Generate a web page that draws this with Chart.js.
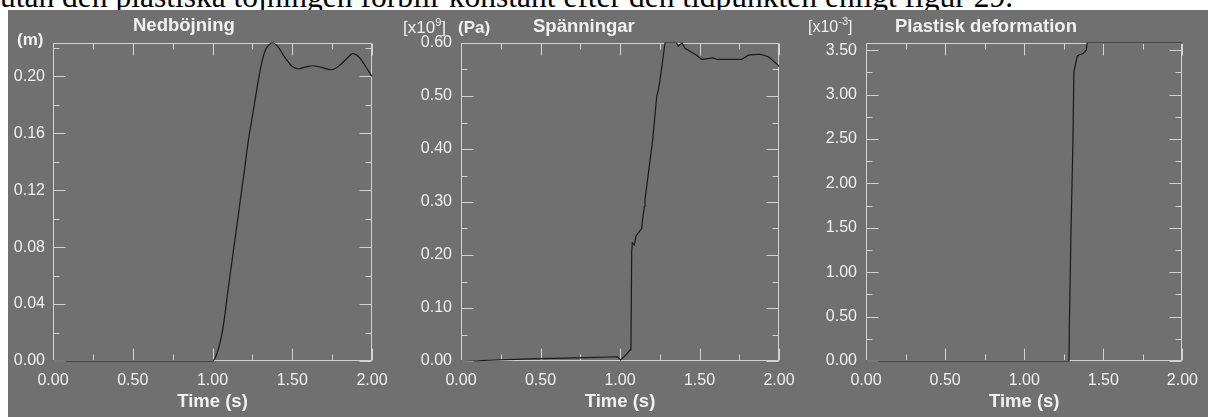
<!DOCTYPE html>
<html>
<head>
<meta charset="utf-8">
<script src="https://cdn.jsdelivr.net/npm/chart.js@4.4.1/dist/chart.umd.min.js"></script>
<style>
body{margin:0;background:#fff;width:1208px;height:417px;overflow:hidden;position:relative;font-family:"Liberation Sans",Arial,sans-serif;}
#caption{position:absolute;left:0;top:-19px;font-family:"Liberation Serif","Times New Roman",serif;font-size:31.5px;line-height:32px;color:#000;white-space:nowrap;}
#panel{position:absolute;left:8px;top:10px;width:1200px;height:407px;background:#707070;}
canvas{position:absolute;top:10px;}
.lbl{position:absolute;color:#f0f0f0;white-space:nowrap;line-height:1;}
.ttl{font-weight:bold;font-size:18.5px;}
.unit{font-size:16px;}
.unit sup{font-size:11px;vertical-align:0;position:relative;top:-7px;}
</style>
</head>
<body>
<div id="caption">utan den plastiska töjningen förblir konstant efter den tidpunkten enligt figur 29.</div>
<div id="panel"></div>
<canvas id="c1" width="400" height="407" style="left:8px"></canvas>
<canvas id="c2" width="400" height="407" style="left:408px"></canvas>
<canvas id="c3" width="400" height="407" style="left:808px"></canvas>

<div class="lbl ttl" style="left:133px;top:16px">Nedböjning</div>
<div class="lbl ttl" style="left:533px;top:17px">Spänningar</div>
<div class="lbl ttl" style="left:895px;top:17px">Plastisk deformation</div>
<div class="lbl ttl" style="left:17px;top:31px;font-size:17px">(m)</div>
<div class="lbl unit" style="left:403px;top:19px;font-size:17px">[x10<sup>9</sup>]</div>
<div class="lbl ttl" style="left:458px;top:19px;font-size:17px">(Pa)</div>
<div class="lbl unit" style="left:808px;top:19px">[x10<sup>-3</sup>]</div>

<script>
// Nedböjning (m)
const deflTime  = [0, 0.5, 0.75, 1.0, 1.03, 1.064, 1.1, 1.15, 1.2, 1.225, 1.25, 1.3, 1.33, 1.36, 1.377, 1.41, 1.45, 1.5, 1.536, 1.58, 1.628, 1.68, 1.747, 1.8, 1.85, 1.879, 1.92, 1.96, 2.0];
const deflValue = [0, 0, 0, 0, 0.006, 0.022, 0.052, 0.093, 0.134, 0.155, 0.172, 0.205, 0.218, 0.2228, 0.2235, 0.221, 0.214, 0.207, 0.2054, 0.2065, 0.2075, 0.2065, 0.2047, 0.208, 0.2135, 0.216, 0.2135, 0.207, 0.2];

// Spänningar (x10^9 Pa)
const stressTime  = [0, 0.1, 0.287, 0.497, 0.79, 0.983, 1.004, 1.042, 1.063, 1.069, 1.0736, 1.0774, 1.09, 1.1006, 1.1214, 1.1365, 1.1428, 1.153, 1.157, 1.2055, 1.231, 1.241, 1.2516, 1.283, 1.356, 1.367, 1.39, 1.409, 1.482, 1.514, 1.587, 1.61, 1.765, 1.807, 1.88, 1.933, 1.996, 2.0];
const stressValue = [0, 0.0005, 0.0025, 0.0044, 0.0063, 0.008, 0.002, 0.013, 0.021, 0.033, 0.206, 0.223, 0.219, 0.236, 0.244, 0.25, 0.269, 0.291, 0.304, 0.417, 0.499, 0.511, 0.53, 0.6, 0.6, 0.594, 0.6, 0.59, 0.577, 0.569, 0.572, 0.569, 0.569, 0.577, 0.579, 0.574, 0.558, 0.555];

// Plastisk deformation (x10^-3)
const plasticTime  = [0, 1.0, 1.283, 1.285, 1.295, 1.308, 1.314, 1.335, 1.346, 1.371, 1.379, 1.392, 1.398, 1.6, 2.0];
const plasticValue = [0, 0, 0, 0.35, 1.4, 2.49, 3.256, 3.432, 3.447, 3.463, 3.477, 3.5, 3.582, 3.582, 3.582];

const fam = '"Liberation Sans", Arial, sans-serif';
const txt = '#f0f0f0';

// frame with inward ticks on all four sides
const framePlugin = {
  id: 'frame',
  beforeDatasetsDraw(chart, args, opts) {
    const {ctx, chartArea: a, scales: {x, y}} = chart;
    const L = Math.round(a.left) + 0.5, R = Math.round(a.right) - 0.5;
    const T = Math.round(a.top) + 0.5, B = Math.round(a.bottom) - 0.5;
    ctx.save();
    ctx.strokeStyle = '#d2d2d2';
    ctx.lineWidth = 1;
    ctx.beginPath();
    ctx.rect(L, T, R - L, B - T);
    for (let i = 0; i * opts.xMinor <= x.max + 1e-9; i++) {
      const px = Math.round(x.getPixelForValue(i * opts.xMinor)) + 0.5;
      const len = i % 2 === 0 ? 12 : 6;
      ctx.moveTo(px, B); ctx.lineTo(px, B - len);
      ctx.moveTo(px, T); ctx.lineTo(px, T + len);
    }
    for (let i = 0; i * opts.yMinor <= y.max + 1e-9; i++) {
      const py = Math.round(y.getPixelForValue(i * opts.yMinor)) + 0.5;
      const len = i % 2 === 0 ? 12 : 6;
      ctx.moveTo(L, py); ctx.lineTo(L + len, py);
      ctx.moveTo(R, py); ctx.lineTo(R - len, py);
    }
    ctx.stroke();
    ctx.restore();
  }
};

function makeChart(id, xs, ys, cfg) {
  const points = xs.map((t, i) => ({x: t, y: ys[i]}));
  return new Chart(document.getElementById(id), {
    type: 'scatter',
    data: {
      datasets: [{
        data: points,
        showLine: true,
        pointRadius: 0,
        borderColor: '#1a1a1a',
        borderWidth: 1.2,
        cubicInterpolationMode: cfg.smooth ? 'monotone' : 'default',
        tension: 0,
        clip: false
      }]
    },
    options: {
      responsive: false,
      animation: false,
      devicePixelRatio: 1,
      layout: {padding: {left: 0, right: cfg.right, top: 33, bottom: 0}},
      plugins: {
        legend: {display: false},
        tooltip: {enabled: false},
        frame: {xMinor: 0.25, yMinor: cfg.yMinor}
      },
      scales: {
        x: {
          type: 'linear', min: 0, max: 2,
          grid: {display: false, drawTicks: false},
          border: {display: false},
          ticks: {stepSize: 0.5, padding: 10, color: txt, font: {family: fam, size: 16},
                  maxRotation: 0, autoSkip: false, callback: v => v.toFixed(2)},
          title: {display: true, text: 'Time (s)', color: txt,
                  font: {family: fam, size: 18.5, weight: 'bold'}, padding: {top: 0, bottom: 4}},
          afterFit: s => { s.height = 56; }
        },
        y: {
          type: 'linear', min: 0, max: cfg.ymax,
          grid: {display: false, drawTicks: false},
          border: {display: false},
          ticks: {stepSize: cfg.yStep, includeBounds: false, padding: cfg.ypad, color: txt,
                  font: {family: fam, size: 16}, autoSkip: false, callback: v => v.toFixed(2)},
          afterFit: s => { s.width = cfg.left; }
        }
      }
    },
    plugins: [framePlugin]
  });
}

makeChart('c1', deflTime, deflValue, {left: 45, right: 36, ymax: 0.2235, yStep: 0.04, yMinor: 0.02, ypad: 8, smooth: true});
makeChart('c2', stressTime, stressValue, {left: 53, right: 29, ymax: 0.6, yStep: 0.1, yMinor: 0.05, ypad: 9, smooth: false});
makeChart('c3', plasticTime, plasticValue, {left: 58, right: 24, ymax: 3.582, yStep: 0.5, yMinor: 0.25, ypad: 9, smooth: false});
</script>
</body>
</html>
